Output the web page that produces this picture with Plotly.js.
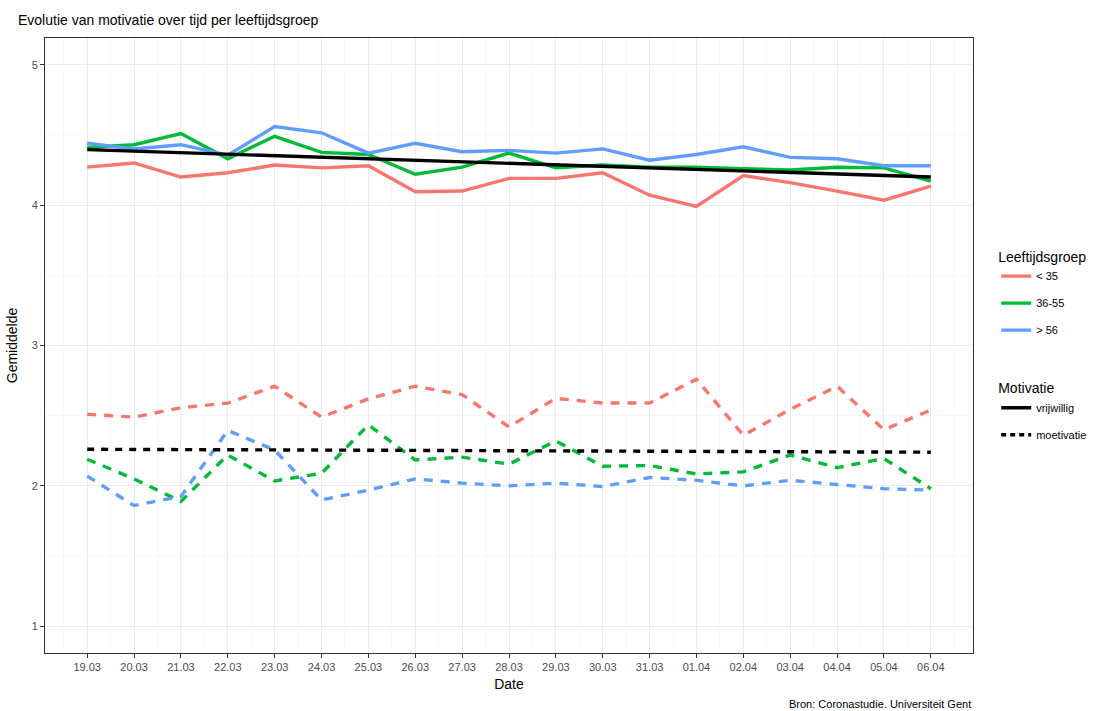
<!DOCTYPE html>
<html>
<head>
<meta charset="utf-8">
<script src="https://cdn.plot.ly/plotly-3.0.1.min.js"></script>
<style>html,body{margin:0;padding:0;background:#fff;}#chart{width:1104px;height:711px;}</style>
</head>
<body>
<div id="chart"></div>
<script>
const dates = ["2020-03-19","2020-03-20","2020-03-21","2020-03-22","2020-03-23","2020-03-24","2020-03-25","2020-03-26","2020-03-27","2020-03-28","2020-03-29","2020-03-30","2020-03-31","2020-04-01","2020-04-02","2020-04-03","2020-04-04","2020-04-05","2020-04-06"];
const groups = ["< 35", "36-55", "> 56"];
const groupColors = ["#F8766D", "#00BA38", "#619CFF"];

// vrijwillig (solid)
const vrij_lt35  = [4.27,4.30,4.20,4.23,4.285,4.265,4.28,4.095,4.10,4.19,4.19,4.23,4.07,3.99,4.21,4.16,4.10,4.035,4.135];
const vrij_36_55 = [4.41,4.43,4.51,4.33,4.49,4.375,4.36,4.22,4.27,4.37,4.265,4.285,4.27,4.27,4.26,4.25,4.27,4.265,4.17];
const vrij_gt56  = [4.44,4.40,4.43,4.355,4.56,4.515,4.37,4.44,4.38,4.39,4.37,4.40,4.32,4.36,4.415,4.34,4.33,4.28,4.28];
// moetivatie (dashed)
const moet_lt35  = [2.51,2.49,2.557,2.59,2.71,2.49,2.62,2.71,2.65,2.42,2.624,2.59,2.59,2.76,2.36,2.545,2.71,2.40,2.54];
const moet_36_55 = [2.19,2.05,1.89,2.22,2.035,2.09,2.435,2.185,2.205,2.155,2.32,2.14,2.145,2.085,2.10,2.22,2.13,2.195,1.98];
const moet_gt56  = [2.07,1.86,1.925,2.395,2.256,1.90,1.97,2.05,2.02,2.00,2.02,1.995,2.06,2.04,2.00,2.04,2.01,1.98,1.97];
// overall linear trends (endpoints)
const trendDates = ["2020-03-19","2020-04-06"];
const trendVrij = [4.395, 4.20];
const trendMoet = [2.261, 2.24];

const motivLabels = ["vrijwillig", "moetivatie"];
const tickDates = dates;
const tickLabels = ["19.03","20.03","21.03","22.03","23.03","24.03","25.03","26.03","27.03","28.03","29.03","30.03","31.03","01.04","02.04","03.04","04.04","05.04","06.04"];

const vrijSeries = [vrij_lt35, vrij_36_55, vrij_gt56];
const moetSeries = [moet_lt35, moet_36_55, moet_gt56];
const LW = 3.4;
const traces = [];
for (let i = 0; i < 3; i++) {
  traces.push({x: dates, y: vrijSeries[i], type: "scatter", mode: "lines",
    line: {color: groupColors[i], width: LW}, showlegend: false});
  traces.push({x: dates, y: moetSeries[i], type: "scatter", mode: "lines",
    line: {color: groupColors[i], width: LW, dash: "9px,8px"}, showlegend: false});
}
traces.push({x: trendDates, y: trendVrij, type: "scatter", mode: "lines",
  line: {color: "#000000", width: LW}, showlegend: false});
traces.push({x: trendDates, y: trendMoet, type: "scatter", mode: "lines",
  line: {color: "#000000", width: LW, dash: "7px,7px"}, showlegend: false});

// legend entries
for (let i = 0; i < 3; i++) {
  traces.push({x: [null], y: [null], type: "scatter", mode: "lines", name: groups[i],
    line: {color: groupColors[i], width: LW}, legend: "legend", legendgroup: "g" + i});
}
traces.push({x: [null], y: [null], type: "scatter", mode: "lines", name: motivLabels[0],
  line: {color: "#000", width: LW}, legend: "legend2", legendgroup: "m0"});
traces.push({x: [null], y: [null], type: "scatter", mode: "lines", name: motivLabels[1],
  line: {color: "#000", width: LW, dash: "5px,4px"}, legend: "legend2", legendgroup: "m1"});

const FONT = "Liberation Sans, Arial, Helvetica, sans-serif";
const layout = {
  width: 1104, height: 711,
  margin: {l: 45, r: 129, t: 38, b: 58},
  paper_bgcolor: "#ffffff", plot_bgcolor: "#ffffff",
  font: {family: FONT, size: 11, color: "#4d4d4d"},
  title: {text: "Evolutie van motivatie over tijd per leeftijdsgroep", x: 18/1104, xanchor: "left",
    y: 1 - 20/711, yanchor: "middle", font: {family: FONT, size: 14, color: "#000"}},
  xaxis: {
    type: "date",
    range: ["2020-03-18 02:24", "2020-04-06 21:36"],
    tickvals: tickDates, ticktext: tickLabels,
    showgrid: true, gridcolor: "#ebebeb", gridwidth: 1,
    minor: {dtick: 43200000, tick0: "2020-03-19", showgrid: true, gridcolor: "#f4f4f4", gridwidth: 0.6, ticks: ""},
    zeroline: false,
    showline: true, mirror: true, linecolor: "#333333", linewidth: 1,
    ticks: "outside", ticklen: 4, tickcolor: "#333333", tickwidth: 1,
    tickfont: {family: FONT, size: 11, color: "#4d4d4d"},
    title: {text: "Date", font: {family: FONT, size: 14, color: "#000"}, standoff: 6}
  },
  yaxis: {
    range: [0.81, 5.19],
    tickvals: [1, 2, 3, 4, 5], ticktext: ["1", "2", "3", "4", "5"],
    showgrid: true, gridcolor: "#ebebeb", gridwidth: 1,
    minor: {dtick: 0.5, tick0: 0.5, showgrid: true, gridcolor: "#f4f4f4", gridwidth: 0.6, ticks: ""},
    zeroline: false,
    showline: true, mirror: true, linecolor: "#333333", linewidth: 1,
    ticks: "outside", ticklen: 4, tickcolor: "#333333", tickwidth: 1,
    tickfont: {family: FONT, size: 11, color: "#4d4d4d"},
    title: {text: "Gemiddelde", font: {family: FONT, size: 14, color: "#000"}, standoff: 10}
  },
  legend: {
    title: {text: "Leeftijdsgroep", font: {family: FONT, size: 14, color: "#000"}},
    x: 1.025, xanchor: "left", y: 0.666, yanchor: "top",
    font: {family: FONT, size: 11, color: "#000"},
    bgcolor: "rgba(0,0,0,0)", itemwidth: 30, tracegroupgap: 8
  },
  legend2: {
    title: {text: "Motivatie", font: {family: FONT, size: 14, color: "#000"}},
    x: 1.025, xanchor: "left", y: 0.452, yanchor: "top",
    font: {family: FONT, size: 11, color: "#000"},
    bgcolor: "rgba(0,0,0,0)", itemwidth: 30, tracegroupgap: 8
  },
  annotations: [{
    text: "Bron: Coronastudie. Universiteit Gent", xref: "paper", yref: "paper",
    x: 1, xanchor: "right", y: -(704 - 653)/615, yanchor: "middle", showarrow: false,
    font: {family: FONT, size: 11, color: "#000"}
  }],
  showlegend: true
};
Plotly.newPlot("chart", traces, layout, {displayModeBar: false, staticPlot: true});
</script>
</body>
</html>
